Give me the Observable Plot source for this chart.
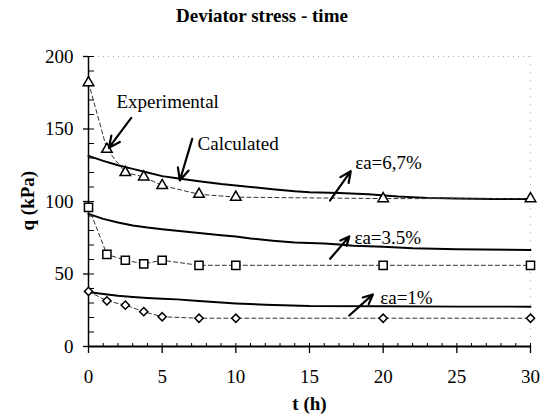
<!DOCTYPE html>
<html><head><meta charset="utf-8">
<script src="https://cdn.jsdelivr.net/npm/d3@7"></script>
<script src="https://cdn.jsdelivr.net/npm/@observablehq/plot@0.6"></script>
<style>
body{margin:0;background:#fff;}
#title{width:524px;height:31px;padding-top:5px;line-height:36px;text-align:center;font:bold 19px "Liberation Serif","Times New Roman",serif;color:#000;}
</style></head><body>
<div id="title">Deviator stress - time</div>
<div id="chart"></div>
<script>
// Experimental points
const expT = [0, 1.25, 2.5, 3.75, 5, 7.5, 10, 20, 30];
const exp67 = [182, 136, 120, 117, 111, 105, 103, 102, 102];
const exp35 = [96, 63.5, 59.5, 57, 59.5, 56, 56, 56, 56];
const exp1 = [38, 31.5, 28.5, 24, 20.5, 19.5, 19.5, 19.5, 19.5];

// Calculated curves
const calcT67 = [0, 1, 2, 3, 4, 5, 6, 7.5, 9, 10, 11, 12.5, 14, 15, 17, 19, 21, 23, 25, 27.5, 30];
const calc67 = [131.5, 128, 125, 122.5, 120, 117.5, 116, 114, 112, 111, 110, 108.5, 107, 106.3, 105.8, 105, 103.5, 102.5, 102, 101.8, 101.8];
const calcT35 = [0, 1, 2, 3, 4, 5, 6, 7.5, 9, 10, 11, 12.5, 14, 15, 16, 17, 18, 20, 22, 25, 30];
const calc35 = [91.5, 88, 85.5, 83.5, 82, 80.8, 79.8, 78.3, 76.8, 75.8, 74.5, 73, 71.8, 71.3, 71, 70.3, 69.5, 68.8, 67.8, 67, 66.5];
const calcT1 = [0, 1, 2, 3, 4, 5, 6, 7.5, 9, 10, 12, 15, 20, 25, 30];
const calc1 = [37.6, 36.2, 35, 34.2, 33.5, 33, 32.5, 31.3, 30.3, 29.7, 28.8, 28, 27.8, 27.5, 27.5];

// Tick values
const xMajor = [0, 5, 10, 15, 20, 25, 30];
const xMinor = d3.range(0, 31, 1);
const yMajor = [0, 50, 100, 150, 200];
const yMinor = d3.range(0, 201, 10);

// Annotations (data coordinates)
const labelText = ["Experimental", "Calculated", "εa=6,7%", "εa=3.5%", "εa=1%"];
const labelT = [1.9, 7.4, 18.1, 18.05, 19.8];
const labelQ = [169, 139.8, 126.5, 75, 33.6];
const arrowT1 = [2.9, 7.04, 16.4, 16.4, 17.7];
const arrowQ1 = [157.7, 143.2, 100.7, 60.5, 21.4];
const arrowT2 = [1.38, 6.2, 17.8, 17.7, 19.3];
const arrowQ2 = [137, 114.5, 120.9, 75.9, 35.9];

const rows = (ts, qs, s) => ts.map((t, i) => ({t, q: qs[i], s}));
const expA = rows(expT, exp67, "6,7");
const expB = rows(expT, exp35, "3.5");
const expC = rows(expT, exp1, "1");
const calc = [...rows(calcT67, calc67, "6,7"), ...rows(calcT35, calc35, "3.5"), ...rows(calcT1, calc1, "1")];
const labels = labelText.map((text, i) => ({text, t: labelT[i], q: labelQ[i]}));
const arrows = arrowT1.map((t1, i) => ({t1, q1: arrowQ1[i], t2: arrowT2[i], q2: arrowQ2[i]}));

const font = '"Liberation Serif", "Times New Roman", serif';
const chart = Plot.plot({
  width: 548, height: 381,
  marginLeft: 88, marginRight: 18, marginTop: 20, marginBottom: 71,
  x: {domain: [0, 30]},
  y: {domain: [0, 200]},
  style: {fontFamily: font, fontSize: "19px", background: "white", color: "black", overflow: "visible"},
  marks: [
    Plot.ruleY([200], {stroke: "#aaa", strokeDasharray: "1,4"}),
    Plot.ruleX([30], {stroke: "#bbb", strokeDasharray: "1,7"}),
    Plot.axisY(yMajor, {tickSize: 5, tickPadding: 10, label: null, fontSize: 19, strokeWidth: 1.3}),
    Plot.axisY(yMinor, {anchor: "right", frameAnchor: "left", tickSize: 5, text: null, label: null}),
    Plot.axisX(xMajor, {tickSize: 7, tickPadding: 16, label: null, fontSize: 19, strokeWidth: 1.3}),
    Plot.axisX(xMinor, {anchor: "top", frameAnchor: "bottom", tickSize: 4, text: null, label: null}),
    Plot.ruleX([0], {strokeWidth: 1.5}),
    Plot.ruleY([0], {strokeWidth: 1.8}),
    Plot.line(calc, {x: "t", y: "q", z: "s", stroke: "black", strokeWidth: 2}),
    Plot.line([...expA, ...expB, ...expC], {x: "t", y: "q", z: "s", stroke: "#333", strokeWidth: 1, strokeDasharray: "4,3"}),
    Plot.dot(expA, {x: "t", y: "q", symbol: "triangle", r: 3.9, fill: "white", stroke: "black", strokeWidth: 1.5}),
    Plot.dot(expB, {x: "t", y: "q", symbol: "square", r: 4.6, fill: "white", stroke: "black", strokeWidth: 1.5}),
    Plot.dot(expC, {x: "t", y: "q", symbol: "diamond2", r: 3.7, fill: "white", stroke: "black", strokeWidth: 1.5}),
    Plot.arrow(arrows, {x1: "t1", y1: "q1", x2: "t2", y2: "q2", stroke: "black", strokeWidth: 2.2, headLength: 9, headAngle: 50}),
    Plot.text(labels, {x: "t", y: "q", text: "text", textAnchor: "start", fontSize: 19}),
    Plot.text(["t (h)"], {frameAnchor: "bottom", dy: 63, fontWeight: "bold", fontSize: 19}),
    Plot.text(["q (kPa)"], {frameAnchor: "left", dx: -61, dy: 29, rotate: -90, fontWeight: "bold", fontSize: 19})
  ]
});
document.getElementById("chart").appendChild(chart);
</script>
</body></html>
